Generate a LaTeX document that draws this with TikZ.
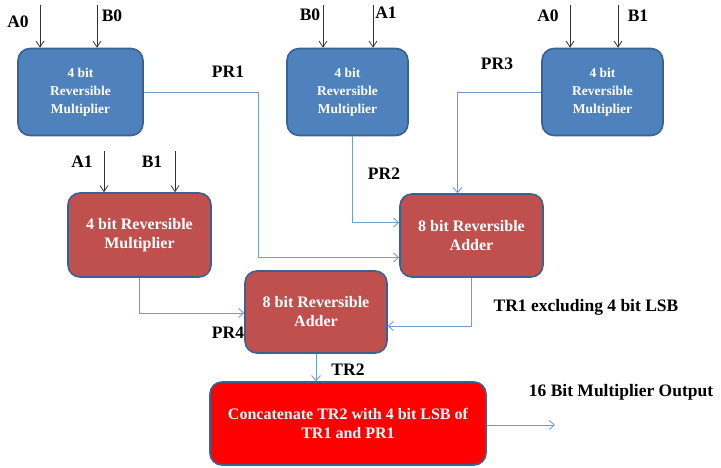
\documentclass[tikz,border=0pt]{standalone}
\usepackage{fontspec}
\setmainfont{Liberation Serif}
\usetikzlibrary{calc, arrows.meta}
\definecolor{sblue}{HTML}{4F81BD}
\definecolor{sred}{HTML}{C0504D}
\definecolor{sedge}{HTML}{3A6290}
\definecolor{sline}{HTML}{729DD3}

\begin{document}
\begin{tikzpicture}[x=1pt, y=-1pt,
    MUL/.style={rectangle, draw=sedge, line width=1.6pt, fill=sblue, rounded corners=12pt, text=white, align=center, inner sep=0pt, font=\bfseries\fontsize{13.5}{18}\selectfont},
    ADD/.style={MUL, fill=sred, font=\bfseries\fontsize{16}{19}\selectfont},
    LBL/.style={font=\bfseries\fontsize{17.5}{18}\selectfont, inner sep=0pt},
    inarrow/.style={draw=black!80, line width=0.8pt, ->, >={Straight Barb[length=6pt, width=8pt]}},
    conn/.style={draw=sline, line width=0.9pt, ->, >={Straight Barb[length=5pt, width=9pt]}}
    ]
    \useasboundingbox (0,0) rectangle (721,468);
        % multipliers
        \node[MUL, minimum width=125pt, minimum height=87pt] (M1) at (80.5,92) {4 bit\\Reversible\\Multiplier};
        \node[MUL, minimum width=121pt, minimum height=87pt] (M2) at (347.5,92) {4 bit\\Reversible\\Multiplier};
        \node[MUL, minimum width=121pt, minimum height=87pt] (M3) at (602.5,92) {4 bit\\Reversible\\Multiplier};
        \node[ADD, minimum width=143pt, minimum height=84pt] (M4) at (139.5,235) {4 bit Reversible\\Multiplier};
        % adders
        \node[ADD, minimum width=143pt, minimum height=83pt] (A1) at (471.5,235.5) {8 bit Reversible\\Adder};
        \node[ADD, minimum width=142pt, minimum height=82pt] (A2) at (316,312) {8 bit Reversible\\Adder};
        \node[ADD, fill=red, minimum width=276pt, minimum height=83pt] (C) at (348,423.5) {Concatenate TR2 with 4 bit LSB of\\TR1 and PR1};
        % inputs
        \draw[inarrow] ($(M1.north)+(-40.5,-43)$) -- ($(M1.north)+(-40.5,0)$);
        \draw[inarrow] ($(M1.north)+(16.5,-43)$) -- ($(M1.north)+(16.5,0)$);
        \draw[inarrow] ($(M2.north)+(-24.5,-43)$) -- ($(M2.north)+(-24.5,0)$);
        \draw[inarrow] ($(M2.north)+(25.5,-43)$) -- ($(M2.north)+(25.5,0)$);
        \draw[inarrow] ($(M3.north)+(-32.5,-43)$) -- ($(M3.north)+(-32.5,0)$);
        \draw[inarrow] ($(M3.north)+(15.5,-43)$) -- ($(M3.north)+(15.5,0)$);
        \draw[inarrow] ($(M4.north)+(-35.5,-41)$) -- ($(M4.north)+(-35.5,0)$);
        \draw[inarrow] ($(M4.north)+(35.5,-41)$) -- ($(M4.north)+(35.5,0)$);
        \node[LBL] (a0) at (18,22) {A0};
        \node[LBL] (b0) at (112,16) {B0};
        \node[LBL] (b0b) at (310,15) {B0};
        \node[LBL] (a1) at (386,13) {A1};
        \node[LBL] (a0b) at (548,16) {A0};
        \node[LBL] (b1) at (638,16) {B1};
        \node[LBL] (a1b) at (82,162) {A1};
        \node[LBL] (b1b) at (152,162) {B1};
        % partial products
        \draw[conn] (M1.east) -| ($(A1.west)+(-141,22)$) -- ($(A1.west)+(0,22)$);
        \draw[conn] ($(M2.south)+(5,0)$) |- ($(A1.west)+(0,-13)$);
        \draw[conn] (M3.west) -| ($(A1.north)+(-14,0)$);
        \draw[conn] (M4.south) |- ($(A2.west)+(0,1)$);
        \draw[conn] (A1.south) |- ($(A2.east)+(0,14)$);
        \draw[conn] (A2.south) -- (A2.south |- C.north);
        \coordinate (out) at (555,425);
        \draw[conn] (C.east |- out) -- (out);
        \node[LBL] (pr1) at (228,72) {PR1};
        \node[LBL] (pr2) at (384,174) {PR2};
        \node[LBL] (pr3) at (497,64) {PR3};
        \node[LBL] (pr4) at (228,333) {PR4};
        \node[LBL] (tr1) at (586,307) {TR1 excluding 4 bit LSB};
        \node[LBL] (tr2) at (348,370) {TR2};
        \node[LBL] (res) at (621,392) {16 Bit Multiplier Output};
    \end{tikzpicture}
\end{document}
